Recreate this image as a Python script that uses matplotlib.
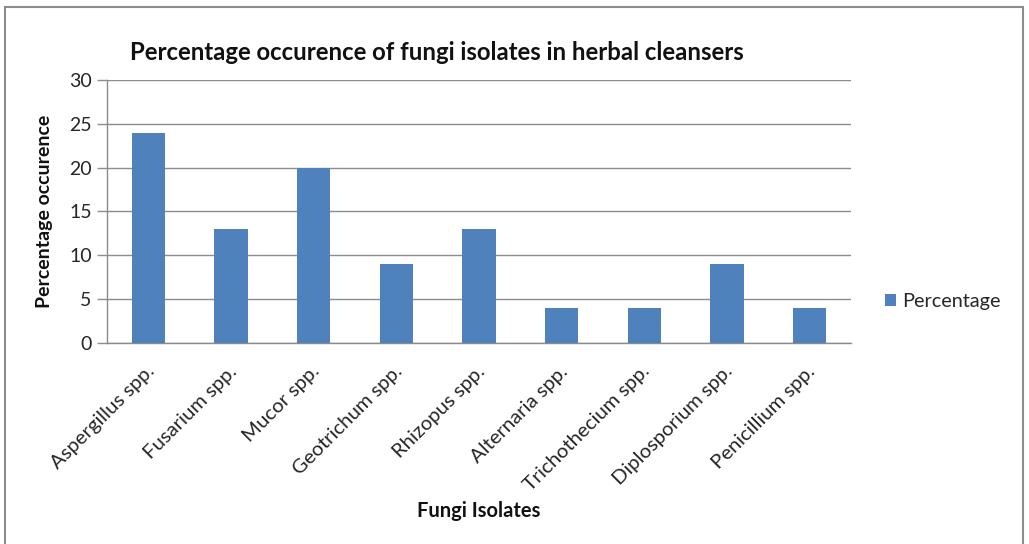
import matplotlib
matplotlib.use("Agg")
import matplotlib.pyplot as plt
from matplotlib.patches import Rectangle
from matplotlib.transforms import ScaledTranslation

categories = ["Aspergillus spp.", "Fusarium spp.", "Mucor spp.", "Geotrichum spp.",
              "Rhizopus spp.", "Alternaria spp.", "Trichothecium spp.",
              "Diplosporium spp.", "Penicillium spp."]
values = [24, 13, 20, 9, 13, 4, 4, 9, 4]
yticks = [0, 5, 10, 15, 20, 25, 30]

plt.rcParams['font.family'] = ['Lato', 'DejaVu Sans']

W, H = 1029, 544
fig = plt.figure(figsize=(W/100, H/100), dpi=100)
fig.patches.append(Rectangle((5/W, -0.1), (1023-5)/W, (H-7)/H + 0.1, transform=fig.transFigure,
                             fill=False, edgecolor='#8c8c8c', linewidth=1.5))

x0, x1, ytop, ybot = 107, 851, 80, 343
ax = fig.add_axes([x0/W, 1-ybot/H, (x1-x0)/W, (ybot-ytop)/H])
pos = list(range(len(categories)))
ax.bar(pos, values, width=0.4, color='#4F81BD', label='Percentage', zorder=3)
ax.set_xlim(-0.5, len(categories)-0.5)
ax.set_ylim(0, 30)
ax.set_yticks(yticks)
ax.set_yticklabels([str(v) for v in yticks], fontsize=14, color='#262626')
ax.yaxis.grid(True, color='#8c8c8c', linewidth=1, zorder=0)
ax.tick_params(axis='y', length=7, width=1, color='#8c8c8c', pad=4)
ax.tick_params(axis='x', length=0, pad=14)
ax.set_xticks(pos)
ax.set_xticklabels(categories, rotation=45, ha='right', rotation_mode='anchor',
                   fontsize=14.6, color='#262626')
off = ScaledTranslation(-3/100, 0, fig.dpi_scale_trans)
for lab in ax.get_xticklabels():
    lab.set_transform(lab.get_transform() + off)
for s in ['top', 'right']:
    ax.spines[s].set_visible(False)
for s in ['left', 'bottom']:
    ax.spines[s].set_color('#8c8c8c')
    ax.spines[s].set_linewidth(1)

fig.text(437/W, 1-52/H, "Percentage occurence of fungi isolates in herbal cleansers",
         ha='center', va='center', fontsize=17.2, fontweight='bold', color='#111111')
fig.text(45/W, 1-211/H, "Percentage occurence", rotation=90, ha='center', va='center',
         fontsize=14, fontweight='bold', color='#111111')
fig.text(479/W, 1-511/H, "Fungi Isolates", ha='center', va='center',
         fontsize=14.5, fontweight='bold', color='#111111')

leg = ax.legend(loc='center left', bbox_to_anchor=(867/W, 1-302/H), bbox_transform=fig.transFigure,
                frameon=False, fontsize=14.3, handlelength=0.55, handleheight=0.55,
                handletextpad=0.3, labelcolor='#262626')

fig.savefig('out.png', dpi=100)
